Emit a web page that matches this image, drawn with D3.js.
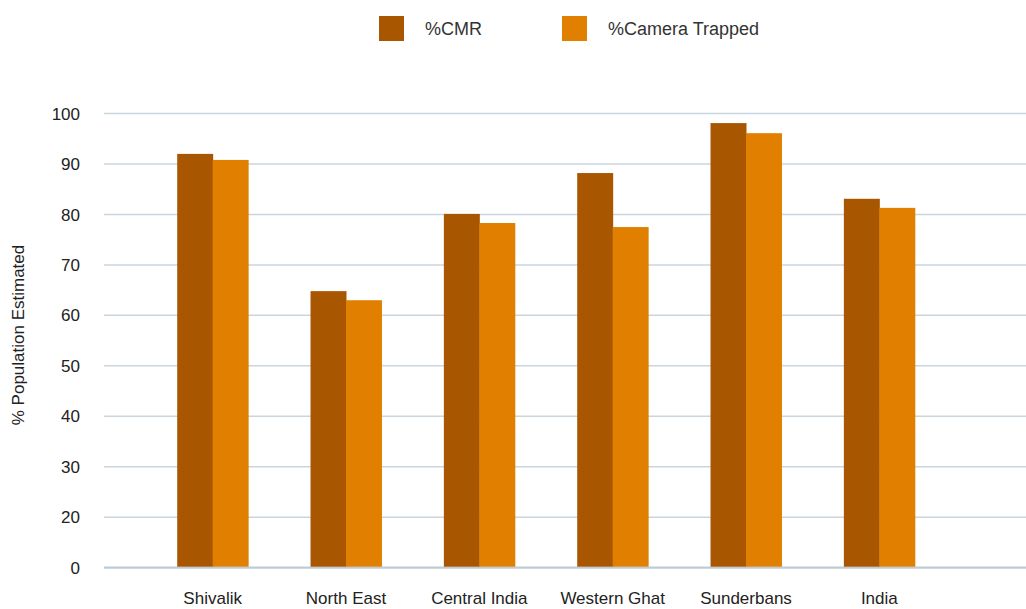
<!DOCTYPE html>
<html>
<head>
<meta charset="utf-8">
<script src="https://cdn.jsdelivr.net/npm/d3@7"></script>
<style>
  body { margin: 0; background: #fff; }
  svg text { font-family: "Liberation Sans", Arial, sans-serif; fill: #222; }
</style>
</head>
<body>
<div class="chart"></div>
<script>
var regions = ["Shivalik", "North East", "Central India", "Western Ghat", "Sunderbans", "India"];
var seriesNames = ["%CMR", "%Camera Trapped"];
var cmr = [92, 64.8, 80.1, 88.2, 98.1, 83.1];
var cameraTrapped = [90.8, 63, 78.3, 77.5, 96.1, 81.3];
// the original axis skips "10": the bottom gridline is labelled 0
var yTickValues = [10, 20, 30, 40, 50, 60, 70, 80, 90, 100];
var yTickLabels = ["0", "20", "30", "40", "50", "60", "70", "80", "90", "100"];

var width = 1026,
    height = 609;
var colors = ["#a85600", "#e07f00"];

var svg = d3.select(".chart").append("svg")
    .attr("width", width)
    .attr("height", height);

var x = d3.scaleBand()
    .domain(regions)
    .range([146, 946])
    .paddingInner(0.468)
    .paddingOuter(0.234);

var xInner = d3.scaleBand()
    .domain(seriesNames)
    .range([0, x.bandwidth()]);

var y = d3.scaleLinear()
    .domain([10, 100])
    .range([567.7, 113.5]);

// gridlines
svg.append("g")
    .selectAll("line")
    .data(yTickValues)
    .enter().append("line")
    .attr("x1", 104)
    .attr("x2", width)
    .attr("y1", function (d) { return y(d); })
    .attr("y2", function (d) { return y(d); })
    .attr("stroke", function (d) { return d === 10 ? "#bccbd6" : "#c9d6de"; })
    .attr("stroke-width", function (d) { return d === 10 ? 2.2 : 1.5; });

// y tick labels
svg.append("g")
    .selectAll("text")
    .data(yTickValues)
    .enter().append("text")
    .attr("x", 80)
    .attr("y", function (d) { return y(d); })
    .attr("dy", "0.36em")
    .attr("text-anchor", "end")
    .style("font-size", "17px")
    .text(function (d, i) { return yTickLabels[i]; });

// bars
var data = regions.map(function (r, i) {
    return { region: r, values: [cmr[i], cameraTrapped[i]] };
});

var groups = svg.append("g")
    .selectAll("g")
    .data(data)
    .enter().append("g")
    .attr("transform", function (d) { return "translate(" + x(d.region) + ",0)"; });

groups.selectAll("rect")
    .data(function (d) {
        return d.values.map(function (v, j) { return { key: seriesNames[j], value: v, j: j }; });
    })
    .enter().append("rect")
    .attr("x", function (d) { return xInner(d.key); })
    .attr("width", xInner.bandwidth() + 0.5)
    .attr("y", function (d) { return y(d.value); })
    .attr("height", function (d) { return y(10) - 1 - y(d.value); })
    .attr("fill", function (d) { return colors[d.j]; });

// x labels
svg.append("g")
    .selectAll("text")
    .data(regions)
    .enter().append("text")
    .attr("x", function (d) { return x(d) + x.bandwidth() / 2; })
    .attr("y", 604)
    .attr("text-anchor", "middle")
    .style("font-size", "17px")
    .text(function (d) { return d; });

// y title
svg.append("text")
    .attr("transform", "translate(24,335) rotate(-90)")
    .attr("text-anchor", "middle")
    .style("font-size", "17px")
    .text("% Population Estimated");

// legend
var legendX = [379, 562];
var legend = svg.append("g")
    .selectAll("g")
    .data(seriesNames)
    .enter().append("g")
    .attr("transform", function (d, i) { return "translate(" + legendX[i] + ",16)"; });

legend.append("rect")
    .attr("width", 25)
    .attr("height", 25)
    .attr("fill", function (d, i) { return colors[i]; });

legend.append("text")
    .attr("x", 46)
    .attr("y", 19)
    .style("font-size", "18px")
    .style("fill", "#333")
    .text(function (d) { return d; });
</script>
</body>
</html>
